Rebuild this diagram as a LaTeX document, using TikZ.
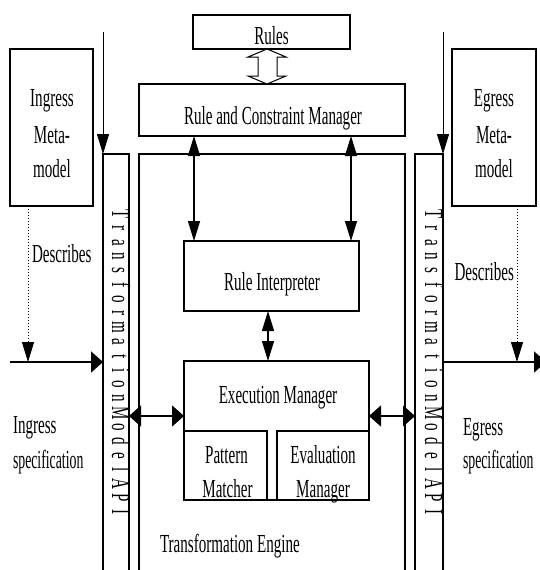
\documentclass[tikz,border=0pt]{standalone}
\usepackage{fontspec}
\setmainfont[FakeStretch=0.58]{Liberation Serif}
\newfontfamily\narrowserif[FakeStretch=0.53]{Liberation Serif}
\usetikzlibrary{arrows.meta,calc}

% one fixed-width slot per letter of the spaced vertical caption
\newcommand\apichar[1]{\makebox[14.2pt]{#1}}
\newcommand\apicaption{\apichar{T}\apichar{r}\apichar{a}\apichar{n}\apichar{s}\apichar{f}\apichar{o}\apichar{r}\apichar{m}\apichar{a}\apichar{t}\apichar{i}\apichar{o}\apichar{n}\apichar{M}\apichar{o}\apichar{d}\apichar{e}\apichar{l}\apichar{A}\apichar{P}\apichar{I}}

\tikzset{
  vtip/.tip={Triangle[length=20pt,width=12pt]},
  htip/.tip={Triangle[length=12pt,width=21pt]},
}

\begin{document}
\begin{tikzpicture}[x=1pt,y=-1pt,
  box/.style={draw, line width=1.1pt, rectangle, inner sep=0pt, outer sep=0pt},
  txt/.style={anchor=base, inner sep=0pt, outer sep=0pt, font=\fontsize{26}{30}\selectfont},
  link/.style={line width=1.4pt},
  thinlink/.style={line width=1pt},
  dotlink/.style={line width=1pt, dotted},
]
\useasboundingbox (0,0) rectangle (540,570);
\clip (0,0) rectangle (540,570);

% ---------- boxes ----------
\node[box, minimum width=157pt, minimum height=34pt]  (rules)  at (271.5,32)  {};
\node[box, minimum width=266pt, minimum height=52pt]  (rcm)    at (272,110)   {};
\node[box, minimum width=266pt, minimum height=436pt] (engine) at (272,372)   {};
\node[box, minimum width=26pt,  minimum height=436pt] (lapi)   at (116,372)   {};
\node[box, minimum width=28pt,  minimum height=436pt] (rapi)   at (429,372)   {};
\node[box, minimum width=83pt,  minimum height=157pt] (ingmeta) at (51.5,127.5) {};
\node[box, minimum width=84pt,  minimum height=157pt] (egmeta)  at (494,127.5)  {};
\node[box, minimum width=175pt, minimum height=70pt]  (interp) at (271.5,276) {};
\node[box, minimum width=185pt, minimum height=139pt] (exec)   at (276.5,430.5) {};
\node[box, minimum width=83pt,  minimum height=69pt]  (pattern) at (225.5,465.5) {};
\node[box, minimum width=92pt,  minimum height=69pt]  (evalm)   at (323,465.5) {};

% ---------- texts ----------
\node[txt] (rulesT)  at (271.5,44) {Rules};
\node[txt] (rcmT)    at (273,124)  {Rule and Constraint Manager};
\node[txt] (interpT) at (272,290)  {Rule Interpreter};
\node[txt] (execT)   at (278,403)  {Execution Manager};
\node[txt] (patA)    at (226.5,463) {Pattern};
\node[txt] (patB)    at (227.5,497) {Matcher};
\node[txt] (evA)     at (323,463)  {Evaluation};
\node[txt] (evB)     at (323,497)  {Manager};
\node[txt] (ingA)    at (52,106)   {Ingress};
\node[txt] (ingB)    at (52,143)   {Meta-};
\node[txt] (ingC)    at (52,177)   {model};
\node[txt] (egA)     at (494,106)  {Egress};
\node[txt] (egB)     at (494,143)  {Meta-};
\node[txt] (egC)     at (494,177)  {model};
\node[txt, anchor=base west] (descL) at (32,262)  {Describes};
\node[txt, anchor=base east] (descR) at (514,280) {Describes};
\node[txt, anchor=base west] (inspA) at (13,433)  {Ingress};
\node[txt, anchor=base west] (inspB) at (13,468)  {\narrowserif specification};
\node[txt, anchor=base west] (egspA) at (463,435) {Egress};
\node[txt, anchor=base west] (egspB) at (463,468) {\narrowserif specification};
\node[txt, anchor=base west] (engT)  at (160,552) {Transformation Engine};
\node[txt, anchor=base west, rotate=-90] (lapiT) at (112,207) {\apicaption};
\node[txt, anchor=base west, rotate=-90] (rapiT) at (425,207) {\apicaption};

% ---------- hollow double arrow between Rules and the manager ----------
\coordinate (ha) at ($(rules.south)+(-4.5,0)$);
\draw[line width=1pt, fill=white]
  (ha) -- ($(ha)+(19,8)$) -- ($(ha)+(10,8)$) -- ($(ha)+(10,27)$) -- ($(ha)+(19,27)$)
  -- (ha |- rcm.north) -- ($(ha)+(-19,27)$) -- ($(ha)+(-9,27)$) -- ($(ha)+(-9,8)$)
  -- ($(ha)+(-19,8)$) -- cycle;

% ---------- connectors ----------
% incoming lines from above onto the API columns
\coordinate (ingtop) at (103,32);
\coordinate (egtop)  at (443,32);
\draw[thinlink, -vtip] (ingtop) -- (lapi.north west);
\draw[thinlink, -vtip] (egtop) -- (rapi.north east);

% manager <-> interpreter
\coordinate (mL) at ($(interp.north west)+(10,0)$);
\coordinate (mR) at ($(interp.north east)+(-8,0)$);
\draw[link, vtip-vtip] (mL |- rcm.south) -- (mL);
\draw[link, vtip-vtip] (mR |- rcm.south) -- (mR);

% interpreter <-> execution manager
\coordinate (iE) at ($(interp.south)+(-3.5,0)$);
\draw[link, vtip-vtip] (iE) -- (iE |- exec.north);

% API columns <-> execution manager
\coordinate (hy) at (0,416);
\draw[link, htip-htip] (lapi.east |- hy) -- (exec.west |- hy);
\draw[link, htip-htip] (exec.east |- hy) -- (rapi.west |- hy);

% specification flow in and out
\coordinate (inleft)   at (10,362);
\coordinate (outright) at (546,362);
\draw[line width=1.8pt, -htip] (inleft) -- (inleft -| lapi.west);
\draw[line width=1.8pt, -htip] (rapi.east |- outright) -- (outright);

% metamodels describe the specifications
\coordinate (dL) at ($(ingmeta.south west)+(18,0)$);
\coordinate (dR) at ($(egmeta.south east)+(-19,0)$);
\draw[dotlink, -vtip] (dL) -- (dL |- inleft);
\draw[dotlink, -vtip] (dR) -- (dR |- outright);
\end{tikzpicture}
\end{document}
